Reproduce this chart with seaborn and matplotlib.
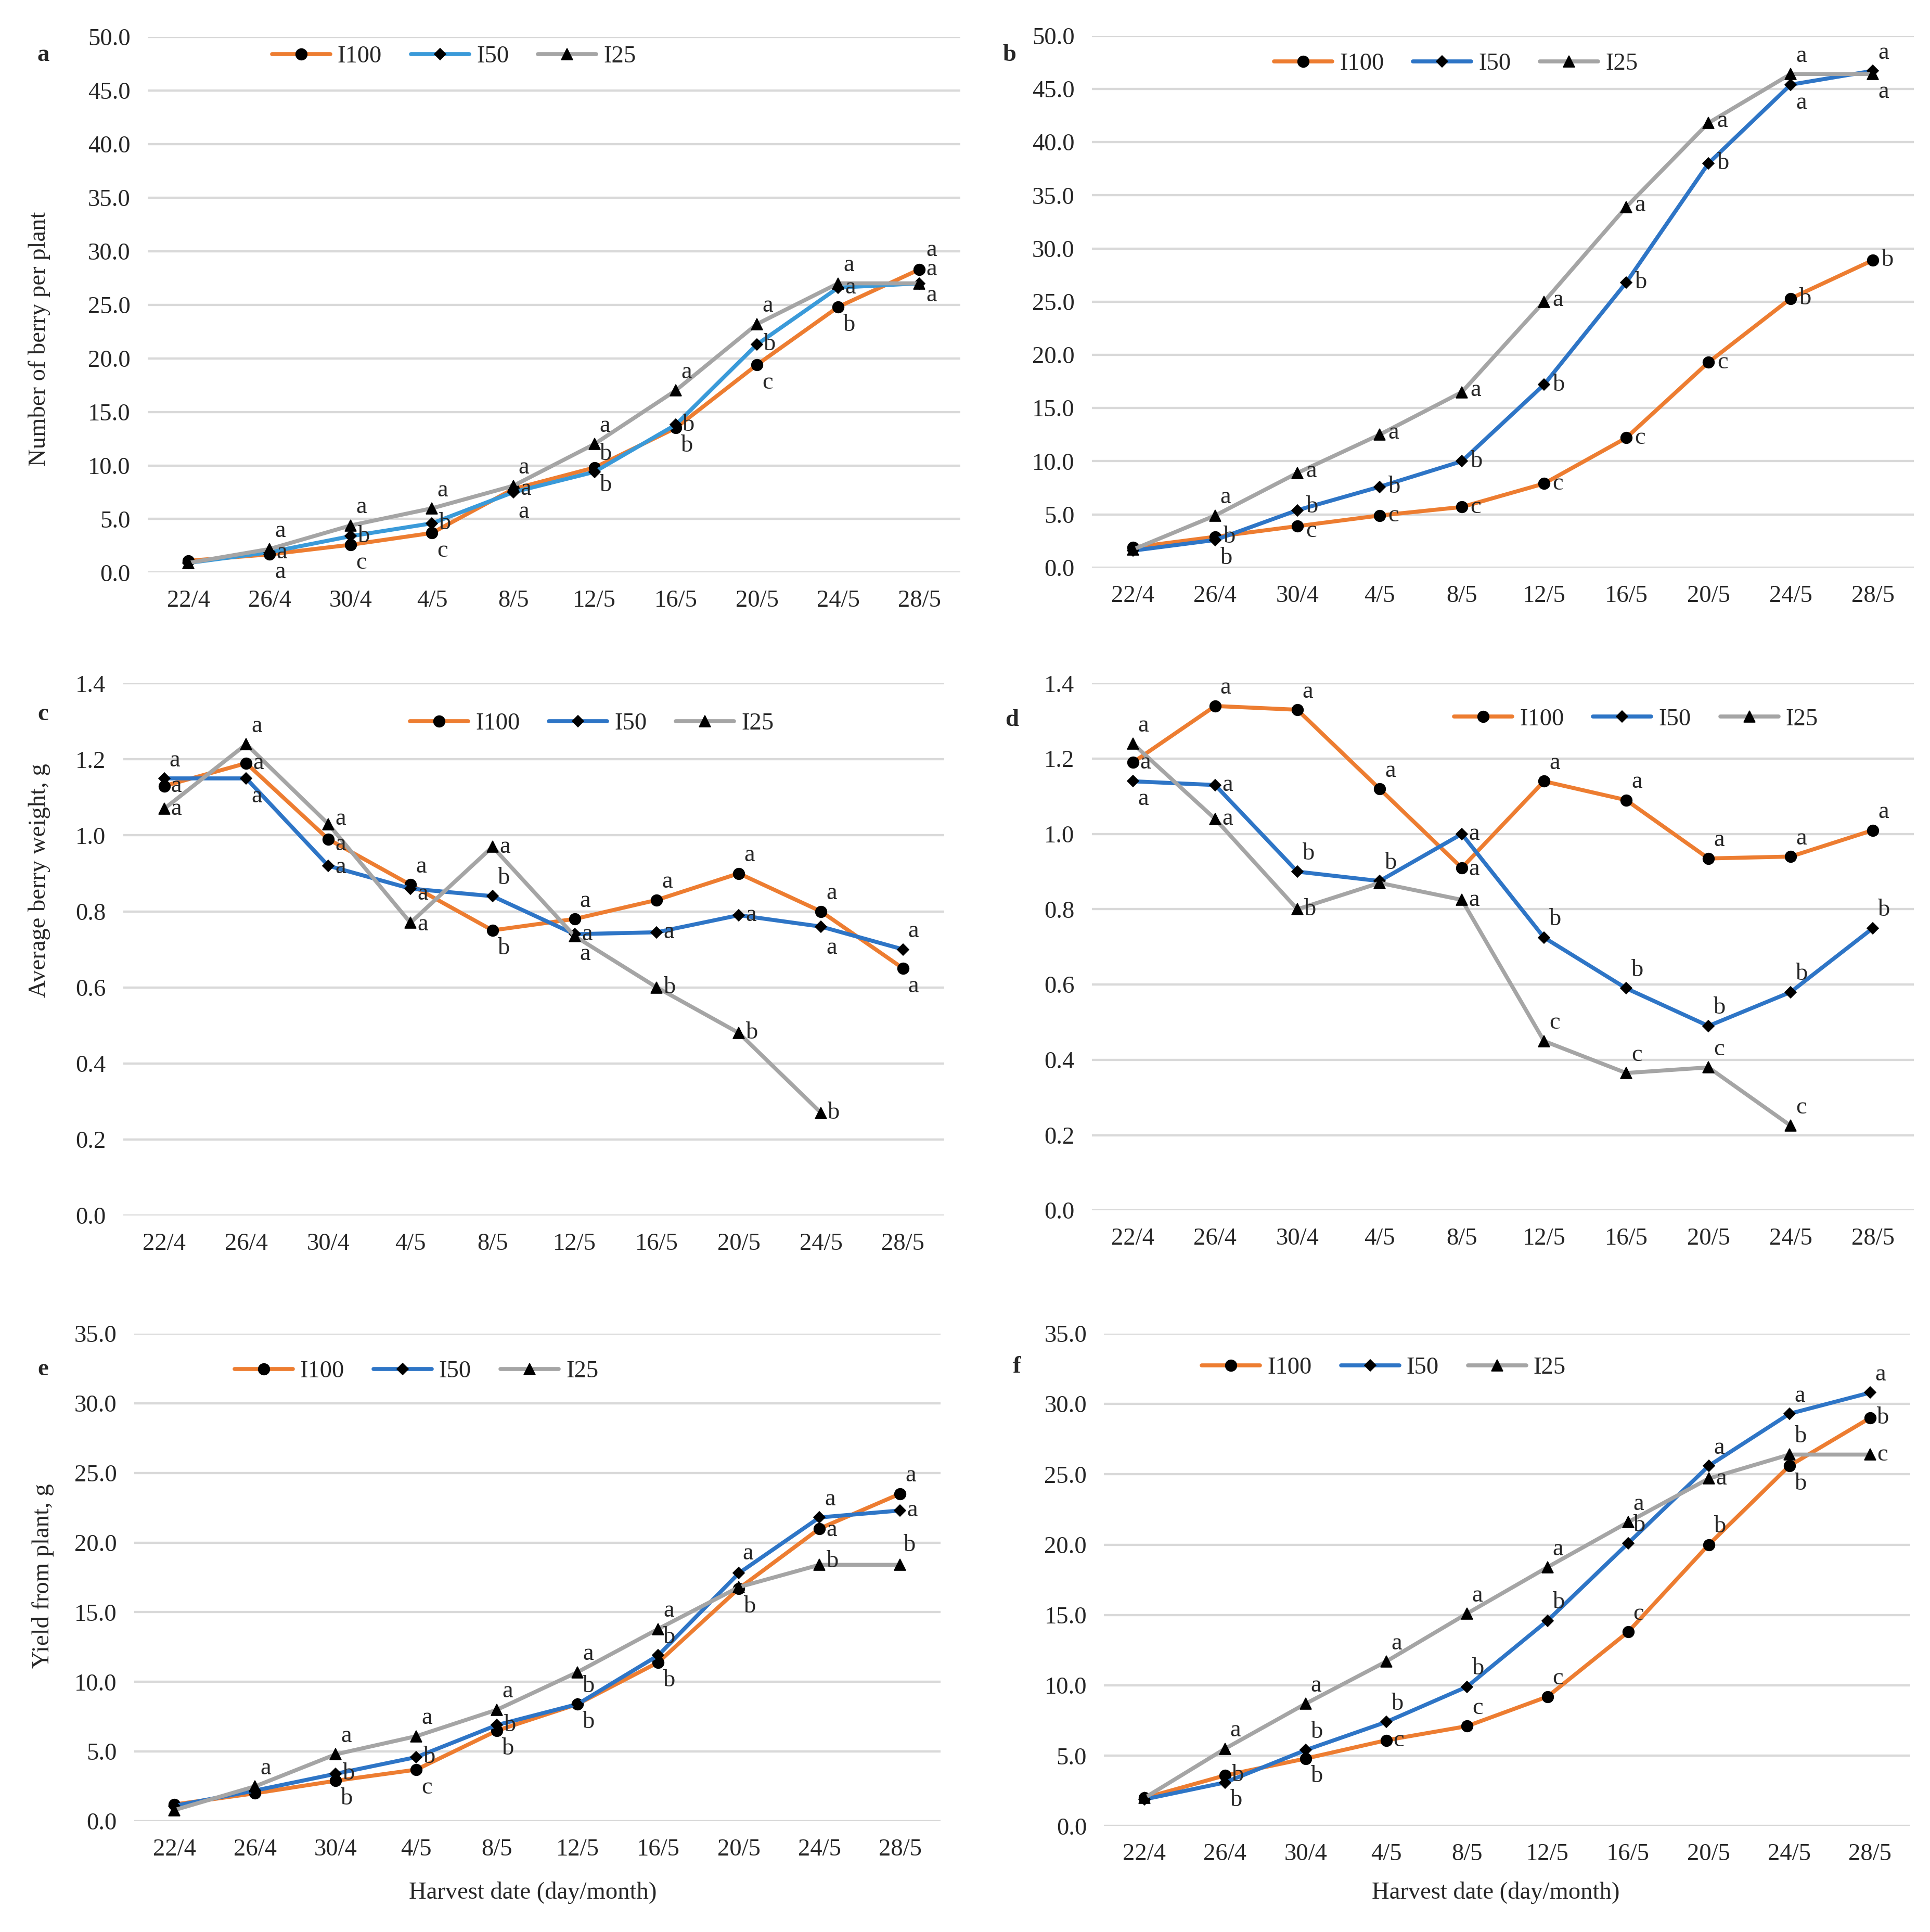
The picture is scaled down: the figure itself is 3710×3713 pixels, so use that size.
import numpy as np
import pandas as pd
import matplotlib
matplotlib.use("Agg")
import matplotlib.pyplot as plt
import seaborn as sns

dates = ["22/4", "26/4", "30/4", "4/5", "8/5", "12/5", "16/5", "20/5", "24/5", "28/5"]
series = ["I100", "I50", "I25"]

# panel a: number of berry per plant (season 1)
a_I100 = [1.1, 1.7, 2.6, 3.7, 7.8, 9.8, 13.5, 19.4, 24.8, 28.3]
a_I50 = [0.9, 1.9, 3.4, 4.6, 7.5, 9.4, 13.8, 21.3, 26.6, 27.0]
a_I25 = [0.9, 2.2, 4.4, 6.0, 8.1, 12.0, 17.0, 23.2, 27.0, 27.0]
a_let_I100 = ["", "a", "c", "c", "a", "b", "b", "c", "b", "a"]
a_let_I50 = ["", "a", "b", "b", "a", "b", "b", "b", "a", "a"]
a_let_I25 = ["", "a", "a", "a", "a", "a", "a", "a", "a", "a"]

# panel b: number of berry per plant (season 2)
b_I100 = [1.9, 2.9, 3.9, 4.9, 5.7, 7.9, 12.2, 19.3, 25.3, 28.9]
b_I50 = [1.6, 2.6, 5.4, 7.6, 10.0, 17.2, 26.8, 38.0, 45.4, 46.7]
b_I25 = [1.7, 4.9, 8.9, 12.5, 16.5, 25.0, 33.9, 41.8, 46.4, 46.4]
b_let_I100 = ["", "b", "c", "c", "c", "c", "c", "c", "b", "b"]
b_let_I50 = ["", "b", "b", "b", "b", "b", "b", "b", "a", "a"]
b_let_I25 = ["", "a", "a", "a", "a", "a", "a", "a", "a", "a"]

# panel c: average berry weight (season 1)
c_I100 = [1.13, 1.19, 0.99, 0.87, 0.75, 0.78, 0.83, 0.90, 0.80, 0.65]
c_I50 = [1.15, 1.15, 0.92, 0.86, 0.84, 0.74, 0.745, 0.79, 0.76, 0.70]
c_I25 = [1.07, 1.24, 1.03, 0.77, 0.97, 0.735, 0.60, 0.48, 0.27, np.nan]
c_let_I100 = ["a", "a", "a", "a", "b", "a", "a", "a", "a", "a"]
c_let_I50 = ["a", "a", "a", "a", "b", "a", "a", "a", "a", "a"]
c_let_I25 = ["a", "a", "a", "a", "a", "a", "b", "b", "b", ""]

# panel d: average berry weight (season 2)
d_I100 = [1.19, 1.34, 1.33, 1.12, 0.91, 1.14, 1.09, 0.935, 0.94, 1.01]
d_I50 = [1.14, 1.13, 0.90, 0.875, 1.00, 0.725, 0.59, 0.49, 0.58, 0.75]
d_I25 = [1.24, 1.04, 0.80, 0.87, 0.825, 0.45, 0.365, 0.38, 0.225, np.nan]
d_let_I100 = ["a", "a", "a", "a", "a", "a", "a", "a", "a", "a"]
d_let_I50 = ["a", "a", "b", "b", "a", "b", "b", "b", "b", "b"]
d_let_I25 = ["a", "a", "b", "", "a", "c", "c", "c", "c", ""]

# panel e: yield from plant (season 1)
e_I100 = [1.2, 2.0, 2.9, 3.7, 6.5, 8.4, 11.4, 16.7, 21.0, 23.5]
e_I50 = [1.1, 2.2, 3.4, 4.6, 6.9, 8.4, 11.9, 17.8, 21.8, 22.3]
e_I25 = [0.8, 2.5, 4.8, 6.1, 8.0, 10.7, 13.8, 16.8, 18.4, 18.4]
e_let_I100 = ["", "", "b", "c", "b", "b", "b", "b", "a", "a"]
e_let_I50 = ["", "", "b", "b", "b", "b", "b", "a", "a", "a"]
e_let_I25 = ["", "a", "a", "a", "a", "a", "a", "", "b", "b"]

# panel f: yield from plant (season 2)
f_I100 = [2.0, 3.6, 4.8, 6.1, 7.1, 9.2, 13.8, 20.0, 25.6, 29.0]
f_I50 = [1.9, 3.1, 5.4, 7.4, 9.9, 14.6, 20.1, 25.6, 29.3, 30.8]
f_I25 = [2.0, 5.5, 8.7, 11.7, 15.1, 18.4, 21.6, 24.7, 26.4, 26.4]
f_let_I100 = ["", "b", "b", "c", "c", "c", "c", "b", "b", "b"]
f_let_I50 = ["", "b", "b", "b", "b", "b", "b", "a", "a", "a"]
f_let_I25 = ["", "a", "a", "a", "a", "a", "a", "a", "b", "c"]

ylabels = ["Number of berry per plant", "Average berry weight, g", "Yield from plant, g"]
xlabel = "Harvest date (day/month)"

sns.set_theme(style="white")
FONT = ["Liberation Serif", "DejaVu Serif"]
plt.rcParams["font.family"] = FONT

W, H = 1568.0, 1569.0
fig = plt.figure(figsize=(3710 / 240, 3713 / 240), dpi=240)
fig.patch.set_facecolor("white")


def rect(x0, y0, x1, y1):
    return [x0 / W, 1 - y1 / H, (x1 - x0) / W, (y1 - y0) / H]


orange = "#ED7D31"
gray = "#A5A5A5"
blue_light = "#3A9AD9"
blue = "#2E75C6"

UP = (3, 4, "bottom")
RIGHT = (4, 0, "center")
DOWN = (3, -4, "top")

panels = [
    dict(name="a", vals=(a_I100, a_I50, a_I25), lets=(a_let_I100, a_let_I50, a_let_I25),
         rect=rect(120, 30, 780, 465), ylim=(0, 50), step=5.0, blue=blue_light,
         leg=(0.377, 0.963), letter=(35, 45),
         off={"I100": DOWN, "I50": RIGHT, "I25": UP},
         over={("I100", 4): RIGHT, ("I50", 4): (3, -5, "top"),
               ("I50", 5): UP, ("I50", 9): (4, 19, "center"), ("I100", 9): RIGHT,
               ("I25", 9): (4, -7, "center")}),
    dict(name="b", vals=(b_I100, b_I50, b_I25), lets=(b_let_I100, b_let_I50, b_let_I25),
         rect=rect(887, 29, 1555, 461), ylim=(0, 50), step=5.0, blue=blue,
         leg=(0.443, 0.947), letter=(820, 45),
         off={"I100": (5, 0, "center"), "I50": (5, 0, "center"), "I25": (5, 1, "center")},
         over={("I50", 1): DOWN, ("I25", 1): UP, ("I25", 8): UP, ("I50", 8): DOWN,
               ("I50", 9): UP, ("I25", 9): DOWN,
               ("I100", 2): (5, -3, "center"), ("I50", 2): (5, 2, "center")}),
    dict(name="c", vals=(c_I100, c_I50, c_I25), lets=(c_let_I100, c_let_I50, c_let_I25),
         rect=rect(100, 555, 767, 987), ylim=(0, 1.4), step=0.2, blue=blue,
         leg=(0.571, 0.924), letter=(35, 580),
         off={"I100": UP, "I50": RIGHT, "I25": RIGHT},
         over={("I50", 0): UP, ("I100", 0): RIGHT,
               ("I25", 1): UP, ("I100", 1): RIGHT, ("I50", 1): DOWN,
               ("I25", 2): (4, 3, "center"), ("I100", 2): (4, -3, "center"), ("I50", 2): (4, -1, "center"),
               ("I100", 3): UP, ("I50", 3): (4, -3, "center"), ("I25", 3): (4, -1, "center"),
               ("I100", 4): DOWN, ("I50", 4): UP,
               ("I100", 5): UP, ("I50", 5): RIGHT, ("I25", 5): DOWN,
               ("I50", 8): (3, -6, "top"), ("I50", 9): UP, ("I100", 9): DOWN}),
    dict(name="d", vals=(d_I100, d_I50, d_I25), lets=(d_let_I100, d_let_I50, d_let_I25),
         rect=rect(887, 555, 1555, 983), ylim=(0, 1.4), step=0.2, blue=blue,
         leg=(0.662, 0.932), letter=(822, 585),
         off={"I100": UP, "I50": UP, "I25": UP},
         over={("I25", 0): UP, ("I100", 0): RIGHT, ("I50", 0): DOWN,
               ("I25", 1): RIGHT, ("I50", 1): RIGHT, ("I100", 1): UP,
               ("I100", 4): (4, -1, "center"), ("I25", 4): RIGHT, ("I50", 4): RIGHT,
               ("I50", 2): UP, ("I25", 2): RIGHT}),
    dict(name="e", vals=(e_I100, e_I50, e_I25), lets=(e_let_I100, e_let_I50, e_let_I25),
         rect=rect(109, 1083, 764, 1479), ylim=(0, 35), step=5.0, blue=blue,
         leg=(0.35, 0.922), letter=(35, 1112),
         off={"I100": DOWN, "I50": RIGHT, "I25": UP},
         over={("I50", 5): UP, ("I50", 6): UP, ("I50", 7): (2, 5, "bottom"),
               ("I50", 8): UP, ("I100", 8): (4, -1, "center"), ("I25", 8): (4, 2, "center"),
               ("I100", 9): UP, ("I50", 9): RIGHT, ("I25", 9): (2, 5, "bottom")}),
    dict(name="f", vals=(f_I100, f_I50, f_I25), lets=(f_let_I100, f_let_I50, f_let_I25),
         rect=rect(897, 1083, 1552, 1483), ylim=(0, 35), step=5.0, blue=blue,
         leg=(0.347, 0.93), letter=(826, 1110),
         off={"I100": UP, "I50": UP, "I25": UP},
         over={("I100", 1): RIGHT, ("I50", 1): DOWN, ("I100", 2): DOWN,
               ("I100", 3): RIGHT, ("I25", 7): RIGHT, ("I100", 8): DOWN,
               ("I100", 9): RIGHT, ("I25", 9): RIGHT}),
]

markers = {"I100": "o", "I50": "D", "I25": "^"}
msizes = {"I100": 6.5, "I50": 4.5, "I25": 6.5}
FS = 14

for p in panels:
    ax = fig.add_axes(p["rect"])
    rows = []
    for s, v in zip(series, p["vals"]):
        for d, y in zip(dates, v):
            rows.append({"date": d, "value": y, "series": s})
    df = pd.DataFrame(rows)
    palette = {"I100": orange, "I50": p["blue"], "I25": gray}
    for s in series:
        sns.lineplot(data=df[df["series"] == s], x="date", y="value", ax=ax,
                     color=palette[s], lw=2.3, marker=markers[s], markersize=msizes[s],
                     markerfacecolor="black", markeredgecolor="black", markeredgewidth=0.5,
                     sort=False, legend=False, label=s, zorder=3)
    for s, v, lets in zip(series, p["vals"], p["lets"]):
        for i, (y, L) in enumerate(zip(v, lets)):
            if L and not np.isnan(y):
                dx, dy, va = p["over"].get((s, i), p["off"][s])
                ax.annotate(L, (i, y), xytext=(dx, dy), textcoords="offset points",
                            ha="left", va=va, fontsize=FS, family=FONT, zorder=4)
    ax.set_xlim(-0.5, len(dates) - 0.5)
    ax.set_ylim(*p["ylim"])
    ax.set_yticks(np.arange(0, p["ylim"][1] + 1e-9, p["step"]))
    ax.yaxis.set_major_formatter(matplotlib.ticker.FormatStrFormatter("%.1f"))
    ax.grid(axis="y", color="#D9D9D9", lw=1.3)
    ax.grid(axis="x", visible=False)
    for sp in ax.spines.values():
        sp.set_visible(False)
    ax.tick_params(axis="both", length=0, labelsize=FS, pad=10)
    for t in ax.get_xticklabels() + ax.get_yticklabels():
        t.set_family(FONT)
    ax.set_xlabel("")
    ax.set_ylabel("")
    ax.set_axisbelow(True)
    handles = ax.get_lines()[:3]
    ax.legend(handles, series, loc="center", bbox_to_anchor=p["leg"], ncol=3, frameon=False,
              handlelength=2.4, columnspacing=1.2, handletextpad=0.3,
              prop={"family": FONT, "size": FS})
    lx, ly = p["letter"]
    fig.text(lx / W, 1 - ly / H, p["name"], fontsize=FS, fontweight="bold",
             ha="center", va="center", family=FONT)

fig.text(32 / W, 1 - 275 / H, ylabels[0], rotation=90, ha="center", va="center", fontsize=FS, family=FONT)
fig.text(32 / W, 1 - 715 / H, ylabels[1], rotation=90, ha="center", va="center", fontsize=FS, family=FONT)
fig.text(35 / W, 1 - 1280 / H, ylabels[2], rotation=90, ha="center", va="center", fontsize=FS, family=FONT)
fig.text(433 / W, 1 - 1537 / H, xlabel, ha="center", va="center", fontsize=FS, family=FONT)
fig.text(1215 / W, 1 - 1537 / H, xlabel, ha="center", va="center", fontsize=FS, family=FONT)

fig.savefig("out.png", dpi=240, facecolor="white")
